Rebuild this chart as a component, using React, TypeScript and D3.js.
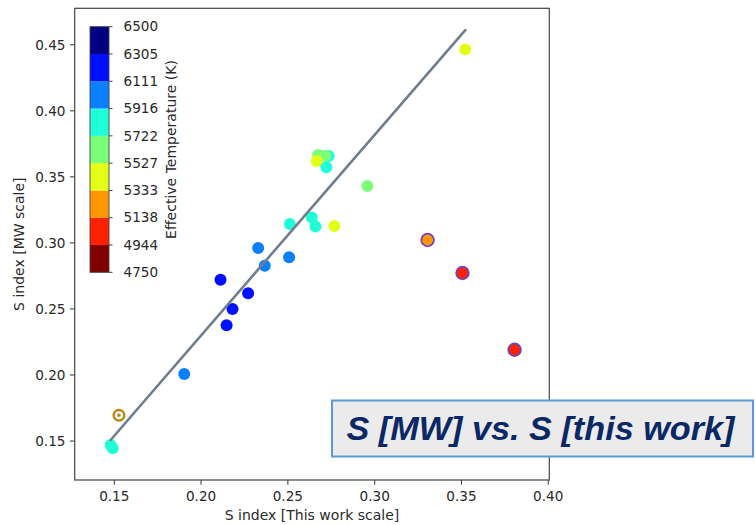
import React from "react";
import * as d3 from "d3";

// S index measurements: this work (x) vs. Mount Wilson scale (y), coloured by Teff
const sThisWork = [0.2674, 0.2735, 0.2716, 0.2666, 0.2722, 0.2958, 0.2638, 0.2659, 0.2511, 0.2768,
  0.2329, 0.2507, 0.2367, 0.2112, 0.2271, 0.2181, 0.2147, 0.1903, 0.1479, 0.1491, 0.3522];
const sMW = [0.3665, 0.3657, 0.3660, 0.3620, 0.3572, 0.3430, 0.3193, 0.3125, 0.3143, 0.3128,
  0.2961, 0.2891, 0.2827, 0.2721, 0.2618, 0.2499, 0.2376, 0.2007, 0.1470, 0.1445, 0.4465];
const teff = [5620, 5800, 5620, 5420, 5800, 5620, 5800, 5800, 5800, 5420,
  6000, 6000, 6000, 6200, 6200, 6200, 6200, 6000, 5800, 5800, 5420];

// Cool stars highlighted with an outline
const outlinedX = [0.3305, 0.3506, 0.3806];
const outlinedY = [0.3022, 0.2772, 0.2191];
const outlinedTeff = [5230, 5040, 5040];

// Reference star (ring marker)
const refX = [0.1527];
const refY = [0.1695];

// One-to-one fit line end points
const fitX = [0.1479, 0.3522];
const fitY = [0.1508, 0.4611];

const xTicks = [0.15, 0.2, 0.25, 0.3, 0.35, 0.4];
const yTicks = [0.15, 0.2, 0.25, 0.3, 0.35, 0.4, 0.45];

// Discrete colour bar: 9 bins from 4750 K to 6500 K (jet)
const tMin = 4750;
const tMax = 6500;
const nBins = 9;
const binColors = ["#800000", "#ff2100", "#ff9700", "#e2ff15", "#7bff7b", "#1fffd8", "#0a80ff", "#0010ff", "#000080"];

const FONT = "'DejaVu Sans', sans-serif";

export default function App() {
  const W = 755;
  const H = 525;
  const left = 74.7, right = 549.3, top = 8.3, bottom = 480;

  const x = d3.scaleLinear().domain([0.1272, 0.4006]).range([left, right]);
  const y = d3.scaleLinear().domain([0.1205, 0.4776]).range([bottom, top]);

  const bounds = d3.range(nBins + 1).map((i) => tMin + (i * (tMax - tMin)) / nBins);
  const color = d3.scaleThreshold<number, string>().domain(bounds.slice(1, -1)).range(binColors);

  // colour bar geometry
  const cbX = 90, cbW = 19, cbTop = 26.7, cbBottom = 272.3;
  const cbY = d3.scaleLinear().domain([tMin, tMax]).range([cbBottom, cbTop]);

  const line = d3.line<[number, number]>().x((d) => x(d[0])).y((d) => y(d[1]));
  const fitPts: [number, number][] = fitX.map((v, i) => [v, fitY[i]]);

  const tickLen = 4.7;
  const tickFs = 13.6;
  const labelFs = 14;
  const ink = "#2a2a2a";

  return (
    <svg width={W} height={H} style={{ position: "absolute", left: 0, top: 0, background: "#fff" }}
      fontFamily={FONT}>
      <rect x={0} y={0} width={W} height={H} fill="#fff" />

      {/* scatter points */}
      {sThisWork.map((v, i) => (
        <circle key={"p" + i} cx={x(v)} cy={y(sMW[i])} r={6} fill={color(teff[i])} />
      ))}
      {outlinedX.map((v, i) => (
        <circle key={"o" + i} cx={x(v)} cy={y(outlinedY[i])} r={6.3} fill={color(outlinedTeff[i])}
          stroke="#6f45bf" strokeWidth={1.8} />
      ))}
      {refX.map((v, i) => (
        <g key={"r" + i}>
          <circle cx={x(v)} cy={y(refY[i])} r={5.3} fill="#fff" stroke="#b8860b" strokeWidth={2.4} />
          <circle cx={x(v)} cy={y(refY[i])} r={1.7} fill="#b8860b" />
        </g>
      ))}

      {/* fit line */}
      <path d={line(fitPts) || ""} stroke="#6e7e8e" strokeWidth={2.6} fill="none" strokeLinecap="round" />

      {/* axes frame */}
      <rect x={left} y={top} width={right - left} height={bottom - top} fill="none" stroke="#444" strokeWidth={1.2} />

      {/* x ticks */}
      {xTicks.map((t) => (
        <g key={"xt" + t}>
          <line x1={x(t)} x2={x(t)} y1={bottom} y2={bottom + tickLen} stroke="#444" strokeWidth={1.1} />
          <text x={x(t)} y={500.5} textAnchor="middle" fontSize={tickFs} fill={ink}>{t.toFixed(2)}</text>
        </g>
      ))}
      <text x={(left + right) / 2} y={520} textAnchor="middle" fontSize={labelFs} fill={ink}>
        S index [This work scale]
      </text>

      {/* y ticks */}
      {yTicks.map((t) => (
        <g key={"yt" + t}>
          <line x1={left - tickLen} x2={left} y1={y(t)} y2={y(t)} stroke="#444" strokeWidth={1.1} />
          <text x={left - tickLen - 4.5} y={y(t)} dy="0.35em" textAnchor="end" fontSize={tickFs} fill={ink}>
            {t.toFixed(2)}
          </text>
        </g>
      ))}
      <text transform={`translate(24,${(top + bottom) / 2}) rotate(-90)`} textAnchor="middle" fontSize={labelFs}
        fill={ink}>
        S index [MW scale]
      </text>

      {/* colour bar */}
      {binColors.map((c, i) => (
        <rect key={"cb" + i} x={cbX} y={cbY(bounds[i + 1])} width={cbW}
          height={cbY(bounds[i]) - cbY(bounds[i + 1])} fill={c} />
      ))}
      <rect x={cbX} y={cbTop} width={cbW} height={cbBottom - cbTop} fill="none" stroke="#444" strokeWidth={0.9} />
      {bounds.map((b, i) => (
        <g key={"cbt" + i}>
          <line x1={cbX + cbW} x2={cbX + cbW + 3.5} y1={cbY(b)} y2={cbY(b)} stroke="#444" strokeWidth={1} />
          <text x={cbX + cbW + 14.5} y={cbY(b)} dy="0.35em" fontSize={tickFs} fill={ink}>
            {Math.floor(b + 1e-6)}
          </text>
        </g>
      ))}
      <text transform={`translate(176,${(cbTop + cbBottom) / 2}) rotate(-90)`} textAnchor="middle" fontSize={labelFs}
        fill={ink}>
        Effective Temperature (K)
      </text>

      {/* title box */}
      <rect x={332} y={400.5} width={421} height={56} fill="#ebebeb" stroke="#5b9bd5" strokeWidth={2} />
      <text x={346.5} y={440} fontFamily="'Liberation Sans', Arial, sans-serif" fontWeight="bold"
        fontStyle="italic" fontSize={34} fill="#0b2866" textLength={388} lengthAdjust="spacingAndGlyphs">
        S [MW] vs. S [this work]
      </text>
    </svg>
  );
}
